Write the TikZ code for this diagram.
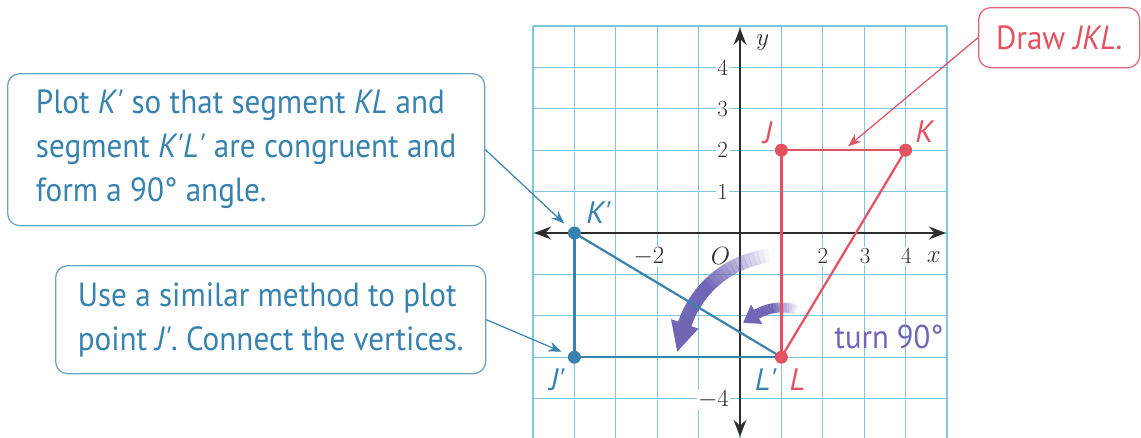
\documentclass[tikz,border=0pt]{standalone}
\usepackage{fontspec}
\newfontfamily\cfont[FakeStretch=0.93]{PT Sans}
\newfontfamily\lfont{PT Sans}
\usetikzlibrary{arrows.meta,calc}
\definecolor{gridc}{RGB}{125,200,225}
\definecolor{bluec}{RGB}{55,130,175}
\definecolor{bluebox}{RGB}{105,165,195}
\definecolor{redc}{RGB}{228,82,98}
\definecolor{redbox}{RGB}{228,105,120}
\definecolor{purp}{RGB}{112,102,182}
\definecolor{axisc}{RGB}{45,45,45}
\tikzset{
  callb/.style={draw=bluebox, line width=1.3pt, rounded corners=12pt, fill=white,
    text=bluec, align=left, inner xsep=0pt, inner ysep=0pt,
    font=\cfont\fontsize{33.5}{44}\selectfont},
  callr/.style={draw=redbox, line width=1.3pt, rounded corners=12pt, fill=white,
    text=redc, align=center, inner sep=0pt,
    font=\cfont\fontsize{33.5}{44}\selectfont},
  bptr/.style={draw=bluec, line width=1.2pt, -{Stealth[length=13pt,width=10pt]}},
  rptr/.style={draw=redc, line width=1.2pt, -{Stealth[length=13pt,width=10pt]}},
  axis/.style={draw=axisc, line width=1.5pt,
    {Stealth[length=17pt,width=13pt,inset=6pt]}-{Stealth[length=17pt,width=13pt,inset=6pt]}},
  num/.style={fill=white, inner sep=1.5pt, text=axisc, font=\fontsize{23}{25}\selectfont},
  rdot/.style={circle, fill=redc, inner sep=0pt, minimum size=13pt},
  bdot/.style={circle, fill=bluec, inner sep=0pt, minimum size=13pt},
  rseg/.style={draw=redc, line width=2.2pt},
  bseg/.style={draw=bluec, line width=2.2pt},
  plab/.style={inner sep=0pt, font=\lfont\itshape\fontsize{31}{34}\selectfont},
  gline/.style={draw=gridc, line width=1.1pt},
}
\begin{document}
\begin{tikzpicture}[x=1pt,y=-1pt]
\useasboundingbox (0,0) rectangle (1141,437);
\fill[white] (0,0) rectangle (1141,437);
\begin{scope}[shift={(740,233)}, x=41.4pt, y=41.4pt]
  % grid
  \foreach \g in {-5,...,5} {
    \draw[gline] (\g,-5) -- (\g,5);
    \draw[gline] (-5,\g) -- (5,\g);
  }
  % axes
  \coordinate (xl) at (-4.97,0);
  \coordinate (xr) at (4.97,0);
  \coordinate (yb) at (0,-4.92);
  \coordinate (yt) at (0,4.95);
  \draw[axis] (xl) -- (xr);
  \draw[axis] (yb) -- (yt);
  % axis labels
  \node[num] (n1) at (-0.42,1) {1};
  \node[num] (n2) at (-0.42,2) {2};
  \node[num] (n3) at (-0.42,3) {3};
  \node[num] (n4) at (-0.42,4) {4};
  \node[num] (nm4) at (-0.64,-4.02) {$-4$};
  \node[num] (nm2) at (-2.2,-0.56) {$-2$};
  \node[num] (nO) at (-0.47,-0.56) {$O$};
  \node[num] (nx2) at (2.0,-0.56) {2};
  \node[num] (nx3) at (3.02,-0.56) {3};
  \node[num] (nx4) at (4.02,-0.56) {4};
  \node[num] (nx) at (4.68,-0.58) {$x$};
  \node[num] (ny) at (0.55,4.6) {$y$};
  % points
  \coordinate (J) at (1,2);
  \coordinate (K) at (4,2);
  \coordinate (L) at (1,-3);
  \coordinate (Kp) at (-4,0);
  \coordinate (Jp) at (-4,-3);
  \coordinate (JKm) at ($(J)!0.5!(K)$);
  % turn arrows (faded)
  \foreach \i in {0,...,23} {
    \pgfmathsetmacro\a{97+\i*2.7}
    \pgfmathsetmacro\o{min(1,(\i+1)/15)}
    \draw[purp, line width=14pt, draw opacity=\o] (L) ++(\a:2.47) arc[start angle=\a, end angle=\a+2.9, radius=2.47];
  }
  \fill[purp] ($(L)+(161:2.12)$) -- ($(L)+(161:2.82)$) -- ($(L)+(177:2.52)$) -- cycle;
  \foreach \i in {0,...,15} {
    \pgfmathsetmacro\a{72+\i*3}
    \pgfmathsetmacro\o{min(1,(\i+1)/10)}
    \draw[purp, line width=10pt, draw opacity=\o] (L) ++(\a:1.2) arc[start angle=\a, end angle=\a+3.2, radius=1.2];
  }
  \fill[purp] ($(L)+(120:0.93)$) -- ($(L)+(120:1.47)$) -- ($(L)+(138:1.24)$) -- cycle;
  % image triangle
  \draw[bseg] (Kp) -- (L);
  \draw[bseg] (Kp) -- (Jp);
  \draw[bseg] (Jp) -- (L);
  % original triangle
  \draw[rseg] (J) -- (K);
  \draw[rseg] (J) -- (L);
  \draw[rseg] (K) -- (L);
  \node[bdot] (dKp) at (Kp) {};
  \node[bdot] (dJp) at (Jp) {};
  \node[rdot] (dJ) at (J) {};
  \node[rdot] (dK) at (K) {};
  \node[rdot] (dL) at (L) {};
  % point labels
  \node[plab, text=redc] (lJ) at (0.67,2.42) {J};
  \node[plab, text=redc] (lK) at (4.45,2.44) {K};
  \node[plab, text=redc] (lL) at (1.38,-3.55) {L};
  \node[plab, text=bluec] (lKp) at (-3.42,0.5) {K\textquotesingle};
  \node[plab, text=bluec] (lJp) at (-4.42,-3.55) {J\textquotesingle};
  \node[plab, text=bluec] (lLp) at (0.62,-3.55) {L\textquotesingle};
  \node[plab, text=purp, font=\cfont\fontsize{33}{34}\selectfont] (turn) at (3.6,-2.5) {turn 90°};
\end{scope}
% callouts
\node[callb, anchor=north west, minimum width=477pt, minimum height=152pt] (c1) at (7,73)
  {Plot \textit{K\textquotesingle} so that segment \textit{KL} and\\
   segment \textit{K\textquotesingle L\textquotesingle} are congruent and\\
   form a 90° angle.};
\node[callb, anchor=north west, minimum width=430pt, minimum height=108pt] (c2) at (55,265)
  {Use a similar method to plot\\ point \textit{J\textquotesingle}. Connect the vertices.};
\node[callr, anchor=north west, minimum width=161pt, minimum height=60pt] (c3) at (978,7)
  {Draw \textit{JKL}.};
\draw[bptr, shorten >=14pt] (c1.east) -- (Kp);
\draw[bptr, shorten >=14pt] (c2.east) -- (Jp);
\draw[rptr, shorten >=6pt] (c3.west) -- (JKm);
\end{tikzpicture}
\end{document}
